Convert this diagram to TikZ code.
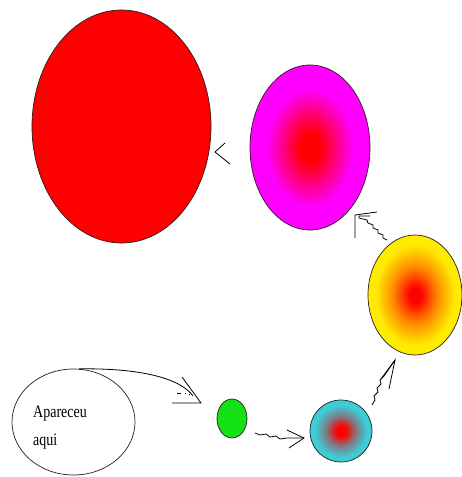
\documentclass[tikz,border=0pt]{standalone}
\usepackage{fontspec}
\setmainfont{Liberation Serif}
\usetikzlibrary{shapes.geometric}
\definecolor{bigred}{RGB}{255,0,0}
\definecolor{mag}{RGB}{255,0,255}
\definecolor{yel}{RGB}{255,235,0}
\definecolor{orng}{RGB}{255,140,0}
\definecolor{cyanish}{RGB}{60,205,215}
\definecolor{cygray}{RGB}{130,120,130}
\definecolor{grn}{RGB}{20,225,20}
\definecolor{outl}{RGB}{40,30,30}
\pgfdeclareradialshading{magshade}{\pgfpoint{0bp}{0bp}}{color(0bp)=(red); color(4bp)=(red); color(18bp)=(mag); color(25bp)=(mag); color(50bp)=(mag)}
\pgfdeclareradialshading{orshade}{\pgfpoint{0bp}{0bp}}{color(0bp)=(red); color(3bp)=(red); color(12bp)=(orng); color(21bp)=(yel); color(25bp)=(yel); color(50bp)=(yel)}
\pgfdeclareradialshading{cyshade}{\pgfpoint{0bp}{0bp}}{color(0bp)=(red); color(4bp)=(red); color(12bp)=(cygray); color(21bp)=(cyanish); color(25bp)=(cyanish); color(50bp)=(cyanish)}
\begin{document}
\begin{tikzpicture}[x=1pt,y=-1pt,
  blob/.style={ellipse, draw=outl, line width=0.7pt, inner sep=0pt},
  pen/.style={draw=black, line width=0.8pt, line join=miter}]
\useasboundingbox (0,0) rectangle (462,477);
\fill[white] (0,0) rectangle (462,477);

\node[blob, fill=bigred, minimum width=179, minimum height=233] (big) at (121.5,126.5) {};
\node[blob, shading=magshade, minimum width=120, minimum height=165] (magn) at (310,147.5) {};
\node[blob, shading=orshade, minimum width=94, minimum height=120] (oran) at (415,295) {};
\node[blob, shading=cyshade, minimum width=62, minimum height=62] (cyan) at (341,431) {};
\node[blob, fill=grn, minimum width=30, minimum height=39] (green) at (232,418.5) {};
\node[blob, fill=white, minimum width=123, minimum height=106] (white) at (73.5,422) {};
\node[anchor=base west, inner sep=0pt, align=left, font=\fontsize{14}{28}\selectfont] (txt) at (33,445)
  {\scalebox{1}[1.25]{Apareceu}\\\scalebox{1}[1.25]{aqui}};

% white -> green
\coordinate (t1) at (201,403);
\coordinate (e1) at (193,396);
\draw[pen] (white.84) .. controls (140,368) and (180,378) .. (e1);
\draw[pen] (182,377) -- (t1) -- (172,403);
\draw[pen, line width=0.6pt] (177,393) -- (181,393) (184.5,393.5) -- (185.5,393.5) (188.5,394) -- (189.5,394);

% green -> cyan
\coordinate (s2) at (255,433);
\coordinate (t2) at (304,438);
\draw[pen] (s2) -- (260,435) -- (266,434) -- (270,437) -- (276,436) -- (280,439) -- (287,438) -- (t2);
\draw[pen] (287,430) -- (t2) -- (289,448) -- (292,446);

% cyan -> orange
\coordinate (s3) at (372,405);
\coordinate (t3) at (395,360);
\draw[pen] (s3) -- (375,400) -- (374,396) -- (378,392) -- (377,388) -- (381,384) -- (380,380) -- (384,376) -- (t3);
\draw[pen] (381,379) -- (t3) -- (389,389);

% orange -> magenta
\coordinate (s4) at (387,240);
\coordinate (t4) at (355,215);
\draw[pen] (s4) -- (383,238) -- (383,235) -- (378,233) -- (378,230) -- (373,228) -- (373,225) -- (368,223) -- (367,220) -- (359,218) -- (359,216) -- (370,216);
\draw[pen] (355,238) -- (t4) -- (377,212);

% magenta -> big red
\coordinate (t5) at (215,152);
\draw[pen] (225,143) -- (t5) -- (230,164);
\end{tikzpicture}
\end{document}
